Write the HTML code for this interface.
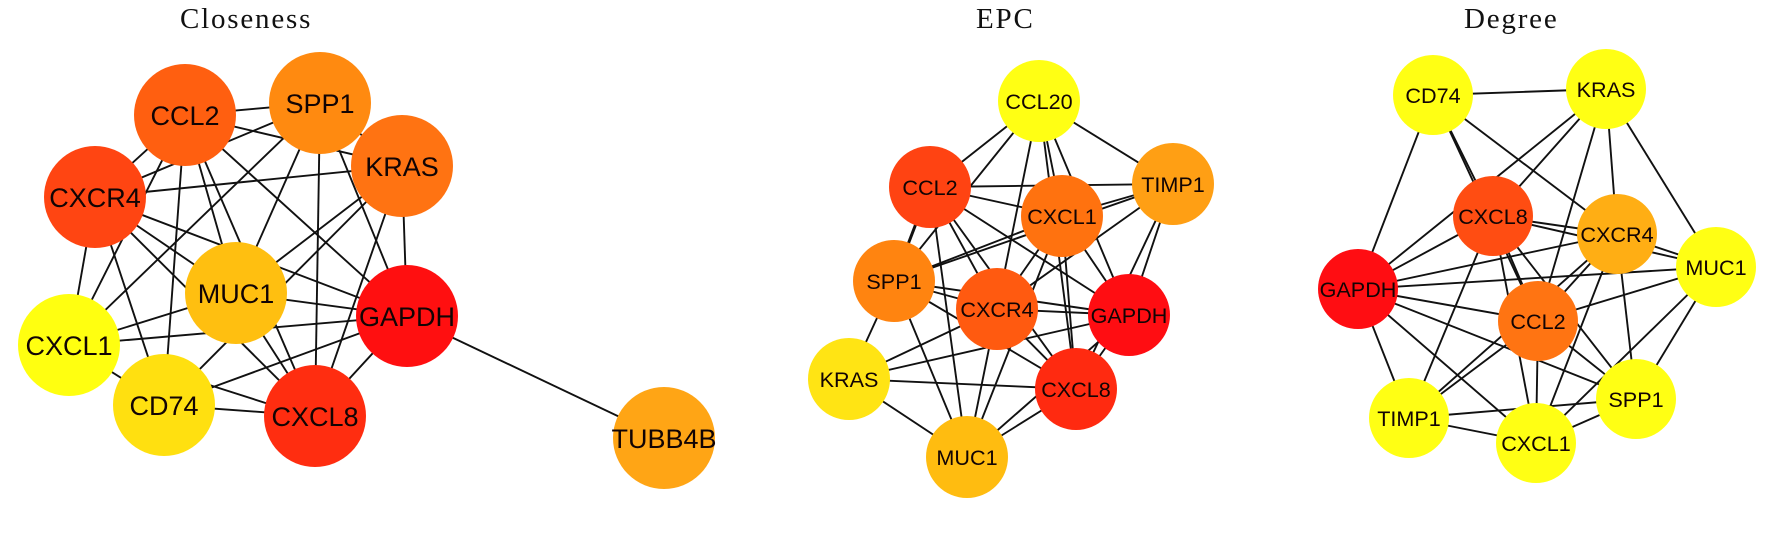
<!DOCTYPE html>
<html lang="en">
<head>
<meta charset="utf-8">
<title>Closeness, EPC and Degree networks</title>
<style>
html,body{margin:0;padding:0;background:#fff;width:1772px;height:536px;overflow:hidden}
svg{display:block;filter:blur(0.3px)}
.t{font-family:"Liberation Serif",serif;font-size:29px;letter-spacing:1.8px;fill:#111}
.e line{stroke:#111;stroke-width:1.9}
.n text{font-family:"Liberation Sans",sans-serif;text-anchor:middle;fill:#120404}
.a text{font-size:27px}
.b text,.c text{font-size:21.6px}
</style>
</head>
<body>
<svg width="1772" height="536" viewBox="0 0 1772 536" xmlns="http://www.w3.org/2000/svg">
<rect width="1772" height="536" fill="#fff"/>
<text class="t" x="180" y="28">Closeness</text>
<text class="t" x="976" y="28">EPC</text>
<text class="t" x="1464" y="28">Degree</text>

<!-- Closeness edges -->
<g class="e">
<line x1="185" y1="115" x2="320" y2="103"/>
<line x1="185" y1="115" x2="402" y2="166"/>
<line x1="185" y1="115" x2="95" y2="197"/>
<line x1="185" y1="115" x2="69" y2="345"/>
<line x1="185" y1="115" x2="164" y2="405"/>
<line x1="185" y1="115" x2="236" y2="293"/>
<line x1="185" y1="115" x2="315" y2="416"/>
<line x1="185" y1="115" x2="407" y2="316"/>
<line x1="320" y1="103" x2="95" y2="197"/>
<line x1="320" y1="103" x2="69" y2="345"/>
<line x1="320" y1="103" x2="236" y2="293"/>
<line x1="320" y1="103" x2="315" y2="416"/>
<line x1="320" y1="103" x2="407" y2="316"/>
<line x1="320" y1="103" x2="402" y2="166"/>
<line x1="402" y1="166" x2="95" y2="197"/>
<line x1="402" y1="166" x2="236" y2="293"/>
<line x1="402" y1="166" x2="164" y2="405"/>
<line x1="402" y1="166" x2="315" y2="416"/>
<line x1="402" y1="166" x2="407" y2="316"/>
<line x1="95" y1="197" x2="69" y2="345"/>
<line x1="95" y1="197" x2="164" y2="405"/>
<line x1="95" y1="197" x2="236" y2="293"/>
<line x1="95" y1="197" x2="407" y2="316"/>
<line x1="95" y1="197" x2="315" y2="416"/>
<line x1="236" y1="293" x2="69" y2="345"/>
<line x1="236" y1="293" x2="407" y2="316"/>
<line x1="236" y1="293" x2="315" y2="416"/>
<line x1="69" y1="345" x2="164" y2="405"/>
<line x1="69" y1="345" x2="407" y2="316"/>
<line x1="164" y1="405" x2="407" y2="316"/>
<line x1="164" y1="405" x2="315" y2="416"/>
<line x1="200" y1="382" x2="300" y2="414"/>
<line x1="407" y1="316" x2="315" y2="416"/>
<line x1="407" y1="316" x2="664" y2="438"/>
</g>
<g class="n a">
<circle cx="320" cy="103" r="51" fill="#ff8a10"/><text x="320" y="113">SPP1</text>
<circle cx="185" cy="115" r="51" fill="#ff5f10"/><text x="185" y="125">CCL2</text>
<circle cx="402" cy="166" r="51" fill="#ff7312"/><text x="402" y="176">KRAS</text>
<circle cx="95" cy="197" r="51" fill="#ff4512"/><text x="95" y="207">CXCR4</text>
<circle cx="236" cy="293" r="51" fill="#ffbf10"/><text x="236" y="303">MUC1</text>
<circle cx="407" cy="316" r="51" fill="#ff0f10"/><text x="407" y="326">GAPDH</text>
<circle cx="69" cy="345" r="51" fill="#ffff10"/><text x="69" y="355">CXCL1</text>
<circle cx="164" cy="405" r="51" fill="#ffe010"/><text x="164" y="415">CD74</text>
<circle cx="315" cy="416" r="51" fill="#ff2d10"/><text x="315" y="426">CXCL8</text>
<circle cx="664" cy="438" r="51" fill="#ffa515"/><text x="664" y="448">TUBB4B</text>
</g>

<!-- EPC edges -->
<g class="e">
<line x1="1039" y1="101" x2="930" y2="187"/>
<line x1="1039" y1="101" x2="894" y2="281"/>
<line x1="1039" y1="101" x2="997" y2="309"/>
<line x1="1039" y1="101" x2="1062" y2="216"/>
<line x1="1039" y1="101" x2="1076" y2="389"/>
<line x1="1039" y1="101" x2="1129" y2="315"/>
<line x1="1039" y1="101" x2="1173" y2="184"/>
<line x1="930" y1="187" x2="1173" y2="184"/>
<line x1="930" y1="187" x2="1062" y2="216"/>
<line x1="930" y1="187" x2="894" y2="281" style="stroke-width:3"/>
<line x1="930" y1="187" x2="997" y2="309"/>
<line x1="930" y1="187" x2="1076" y2="389"/>
<line x1="930" y1="187" x2="967" y2="457"/>
<line x1="930" y1="187" x2="1129" y2="315"/>
<line x1="894" y1="281" x2="1062" y2="216"/>
<line x1="894" y1="281" x2="1173" y2="184"/>
<line x1="894" y1="281" x2="997" y2="309"/>
<line x1="894" y1="281" x2="1129" y2="315"/>
<line x1="894" y1="281" x2="1076" y2="389"/>
<line x1="894" y1="281" x2="849" y2="379"/>
<line x1="894" y1="281" x2="967" y2="457"/>
<line x1="849" y1="379" x2="997" y2="309"/>
<line x1="849" y1="379" x2="1129" y2="315"/>
<line x1="849" y1="379" x2="1076" y2="389"/>
<line x1="849" y1="379" x2="967" y2="457"/>
<line x1="997" y1="309" x2="967" y2="457"/>
<line x1="1062" y1="216" x2="967" y2="457"/>
<line x1="997" y1="309" x2="1062" y2="216"/>
<line x1="1173" y1="184" x2="997" y2="309"/>
<line x1="1173" y1="184" x2="1129" y2="315"/>
<line x1="1173" y1="184" x2="1076" y2="389"/>
<line x1="1062" y1="216" x2="1173" y2="184"/>
<line x1="1062" y1="216" x2="1129" y2="315"/>
<line x1="1062" y1="216" x2="1076" y2="389"/>
<line x1="997" y1="309" x2="1129" y2="315"/>
<line x1="997" y1="309" x2="1076" y2="389"/>
<line x1="1129" y1="315" x2="1076" y2="389"/>
<line x1="967" y1="457" x2="1129" y2="315"/>
<line x1="967" y1="457" x2="1076" y2="389"/>
</g>
<g class="n b">
<circle cx="1039" cy="101" r="41" fill="#ffff14"/><text x="1039" y="109">CCL20</text>
<circle cx="930" cy="187" r="41" fill="#ff4312"/><text x="930" y="195">CCL2</text>
<circle cx="894" cy="281" r="41" fill="#ff8410"/><text x="894" y="289">SPP1</text>
<circle cx="997" cy="309" r="41" fill="#ff5a10"/><text x="997" y="317">CXCR4</text>
<circle cx="849" cy="379" r="41" fill="#ffe414"/><text x="849" y="387">KRAS</text>
<circle cx="967" cy="457" r="41" fill="#ffbc10"/><text x="967" y="465">MUC1</text>
<circle cx="1062" cy="216" r="41" fill="#ff720f"/><text x="1062" y="224">CXCL1</text>
<circle cx="1173" cy="184" r="41" fill="#ff9f14"/><text x="1173" y="192">TIMP1</text>
<circle cx="1129" cy="315" r="41" fill="#ff0d12"/><text x="1129" y="323">GAPDH</text>
<circle cx="1076" cy="389" r="41" fill="#ff2a10"/><text x="1076" y="397">CXCL8</text>
</g>

<!-- Degree edges -->
<g class="e">
<line x1="1433" y1="95" x2="1606" y2="89"/>
<line x1="1433" y1="95" x2="1358" y2="289"/>
<line x1="1433" y1="95" x2="1493" y2="216"/>
<line x1="1433" y1="95" x2="1538" y2="321"/>
<line x1="1433" y1="95" x2="1617" y2="234"/>
<line x1="1606" y1="89" x2="1358" y2="289"/>
<line x1="1606" y1="89" x2="1493" y2="216"/>
<line x1="1606" y1="89" x2="1538" y2="321"/>
<line x1="1606" y1="89" x2="1617" y2="234"/>
<line x1="1606" y1="89" x2="1716" y2="267"/>
<line x1="1493" y1="216" x2="1358" y2="289"/>
<line x1="1493" y1="216" x2="1409" y2="418"/>
<line x1="1493" y1="216" x2="1617" y2="234"/>
<line x1="1493" y1="216" x2="1716" y2="267"/>
<line x1="1493" y1="216" x2="1538" y2="321"/>
<line x1="1493" y1="216" x2="1536" y2="443"/>
<line x1="1493" y1="216" x2="1636" y2="399"/>
<line x1="1358" y1="289" x2="1409" y2="418"/>
<line x1="1358" y1="289" x2="1536" y2="443"/>
<line x1="1358" y1="289" x2="1538" y2="321"/>
<line x1="1358" y1="289" x2="1636" y2="399"/>
<line x1="1358" y1="289" x2="1617" y2="234"/>
<line x1="1358" y1="289" x2="1716" y2="267"/>
<line x1="1409" y1="418" x2="1617" y2="234"/>
<line x1="1409" y1="418" x2="1538" y2="321"/>
<line x1="1409" y1="418" x2="1636" y2="399"/>
<line x1="1409" y1="418" x2="1536" y2="443"/>
<line x1="1538" y1="321" x2="1617" y2="234"/>
<line x1="1538" y1="321" x2="1716" y2="267"/>
<line x1="1538" y1="321" x2="1636" y2="399"/>
<line x1="1538" y1="321" x2="1536" y2="443"/>
<line x1="1617" y1="234" x2="1536" y2="443"/>
<line x1="1617" y1="234" x2="1636" y2="399"/>
<line x1="1617" y1="234" x2="1716" y2="267"/>
<line x1="1716" y1="267" x2="1636" y2="399"/>
<line x1="1716" y1="267" x2="1536" y2="443"/>
<line x1="1636" y1="399" x2="1536" y2="443"/>
</g>
<g class="n c">
<circle cx="1433" cy="95" r="40" fill="#ffff14"/><text x="1433" y="103">CD74</text>
<circle cx="1606" cy="89" r="40" fill="#ffff14"/><text x="1606" y="97">KRAS</text>
<circle cx="1493" cy="216" r="40" fill="#ff4d12"/><text x="1493" y="224">CXCL8</text>
<circle cx="1617" cy="234" r="40" fill="#ffae14"/><text x="1617" y="242">CXCR4</text>
<circle cx="1716" cy="267" r="40" fill="#ffff14"/><text x="1716" y="275">MUC1</text>
<circle cx="1358" cy="289" r="40" fill="#ff0d12"/><text x="1358" y="297">GAPDH</text>
<circle cx="1538" cy="321" r="40" fill="#ff7412"/><text x="1538" y="329">CCL2</text>
<circle cx="1409" cy="418" r="40" fill="#ffff14"/><text x="1409" y="426">TIMP1</text>
<circle cx="1536" cy="443" r="40" fill="#ffff14"/><text x="1536" y="451">CXCL1</text>
<circle cx="1636" cy="399" r="40" fill="#ffff14"/><text x="1636" y="407">SPP1</text>
</g>
</svg>
</body>
</html>
